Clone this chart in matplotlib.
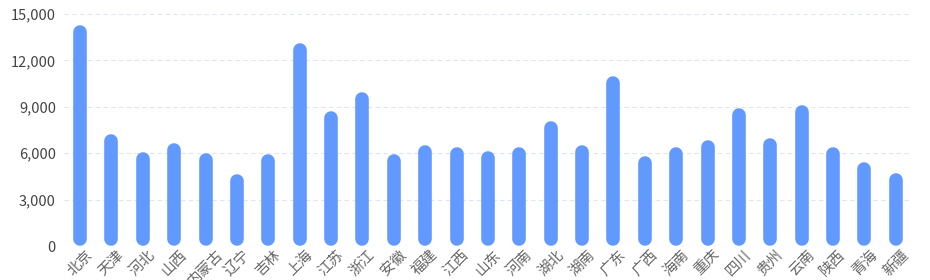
import matplotlib
matplotlib.use("Agg")
import matplotlib.pyplot as plt
from matplotlib.ticker import FuncFormatter

plt.rcParams['font.family'] = ['Noto Sans CJK SC', 'DejaVu Sans']

provinces = ['北京', '天津', '河北', '山西', '内蒙古', '辽宁', '吉林', '上海', '江苏', '浙江',
             '安徽', '福建', '江西', '山东', '河南', '湖北', '湖南', '广东', '广西', '海南',
             '重庆', '四川', '贵州', '云南', '陕西', '青海', '新疆']
values = [14290, 7260, 6080, 6640, 6030, 4630, 5930, 13100, 8690, 9930,
          5950, 6510, 6420, 6140, 6360, 8100, 6510, 10950, 5820, 6400,
          6830, 8940, 6980, 9100, 6360, 5450, 4680]
yticks = [0, 3000, 6000, 9000, 12000, 15000]

W, H = 930, 280
fig = plt.figure(figsize=(W / 100, H / 100), dpi=100)
left, right, top, bottom = 64.3, 911.5, 14, 246
ax = fig.add_axes([left / W, (H - bottom) / H, (right - left) / W, (bottom - top) / H])

ymax = 15000
ax.set_ylim(0, ymax)
ax.set_xlim(-0.5, len(provinces) - 0.5)

bar_px = 13.6
r_data = (bar_px / 2) * ymax / (bottom - top)
x = list(range(len(provinces)))
ax.vlines(x, [r_data] * len(values), [v - r_data for v in values],
          colors='#6199FF', linewidth=bar_px * 0.72, capstyle='round', zorder=3)

ax.set_yticks(yticks)
ax.yaxis.set_major_formatter(FuncFormatter(lambda v, p: f"{int(v):,}"))
ax.grid(axis='y', color='#E0E6F1', linestyle=(0, (4, 3)), linewidth=0.8, zorder=0)
ax.set_axisbelow(True)
for s in ax.spines.values():
    s.set_visible(False)

ax.tick_params(axis='y', length=0, pad=6, labelsize=10.5, labelcolor='#444444')
ax.set_xticks(x)
ax.set_xticklabels(provinces, rotation=45, ha='center', va='top')
ax.tick_params(axis='x', length=0, pad=1, labelsize=10.5, labelcolor='#666666')

fig.savefig('out.png', dpi=100)
